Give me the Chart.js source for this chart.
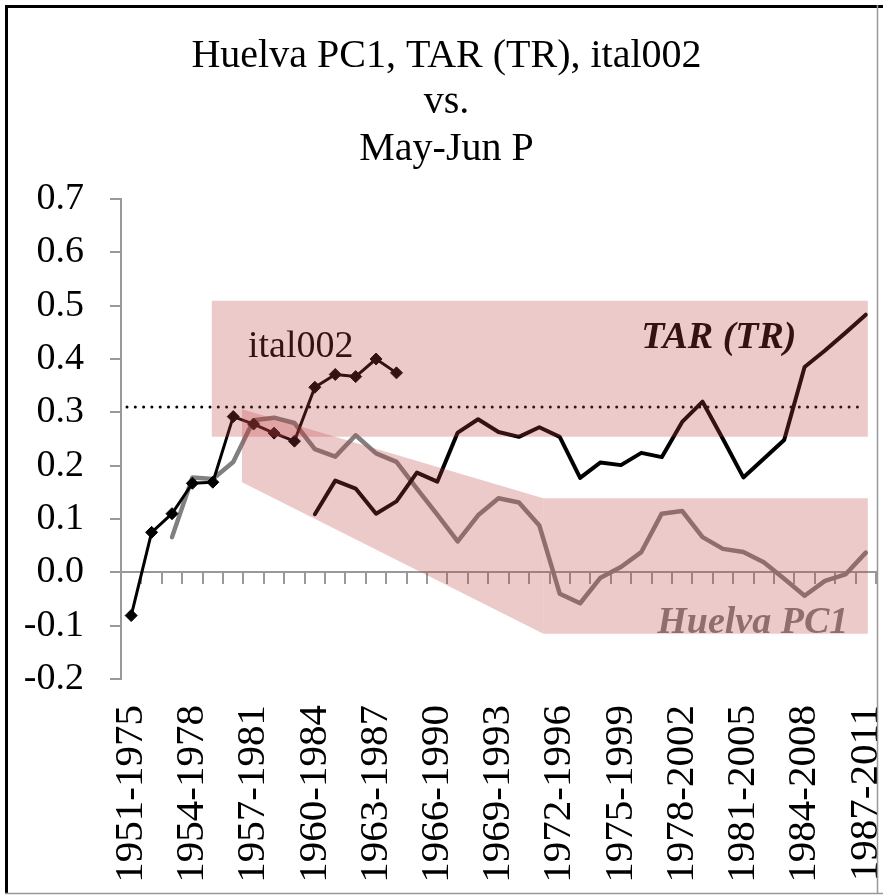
<!DOCTYPE html>
<html>
<head>
<meta charset="utf-8">
<script src="https://cdn.jsdelivr.net/npm/chart.js@4.4.0/dist/chart.umd.min.js"></script>
<style>
  html, body { margin: 0; padding: 0; background: #fff; }
  #wrap { width: 883px; height: 896px; position: relative; }
</style>
</head>
<body>
<div id="wrap"><canvas id="pcChart"></canvas></div>
<script>
// 25-year moving windows
const periods = [
  "1951-1975", "1952-1976", "1953-1977", "1954-1978", "1955-1979", "1956-1980",
  "1957-1981", "1958-1982", "1959-1983", "1960-1984", "1961-1985", "1962-1986",
  "1963-1987", "1964-1988", "1965-1989", "1966-1990", "1967-1991", "1968-1992",
  "1969-1993", "1970-1994", "1971-1995", "1972-1996", "1973-1997", "1974-1998",
  "1975-1999", "1976-2000", "1977-2001", "1978-2002", "1979-2003", "1980-2004",
  "1981-2005", "1982-2006", "1983-2007", "1984-2008", "1985-2009", "1986-2010",
  "1987-2011"
];

const ital002 = [
  -0.081, 0.075, 0.110, 0.167, 0.169, 0.292, 0.278, 0.261, 0.246, 0.347,
  0.371, 0.367, 0.400, 0.374
];

const tarTR = [
  null, null, null, null, null, null, null, null, null,
  0.109, 0.172, 0.157, 0.110, 0.133, 0.187, 0.170, 0.262, 0.287, 0.263,
  0.254, 0.272, 0.254, 0.177, 0.206, 0.201, 0.224, 0.216, 0.282, 0.320,
  0.250, 0.178, 0.213, 0.248, 0.385, 0.416, 0.449, 0.483
];

const huelvaPC1 = [
  null, null,
  0.066, 0.178, 0.175, 0.207, 0.285, 0.290, 0.280, 0.231, 0.217, 0.257,
  0.223, 0.207, 0.157, 0.108, 0.058, 0.107, 0.139, 0.131, 0.088, -0.040,
  -0.058, -0.010, 0.010, 0.038, 0.110, 0.115, 0.066, 0.044, 0.038, 0.019,
  -0.012, -0.044, -0.016, -0.004, 0.037
];

const yMin = -0.2, yMax = 0.7, yStep = 0.1;
const threshold = 0.31;

// shaded areas, in [category index, value]
const shadeUpper = [[3.95, 0.509], [36.1, 0.509], [36.1, 0.254], [3.95, 0.254]];
const shadeWedge = [[5.43, 0.306], [20.2, 0.139], [20.2, -0.115], [5.43, 0.169]];
const shadeLower = [[20.2, 0.139], [36.1, 0.139], [36.1, -0.115], [20.2, -0.115]];

const serif = "'Liberation Serif', 'Times New Roman', serif";

const overlayPlugin = {
  id: "overlay",
  afterDatasetsDraw(chart) {
    const { ctx, chartArea, scales: { x, y } } = chart;
    ctx.save();

    // dotted reference line
    const ty = y.getPixelForValue(threshold);
    ctx.strokeStyle = "#000";
    ctx.lineWidth = 3;
    ctx.lineCap = "round";
    ctx.setLineDash([0, 8.3]);
    ctx.beginPath();
    ctx.moveTo(chartArea.left + 6, ty);
    ctx.lineTo(chartArea.right - 17, ty);
    ctx.stroke();
    ctx.setLineDash([]);

    // series labels
    ctx.textBaseline = "alphabetic";
    ctx.textAlign = "left";
    ctx.fillStyle = "#000";
    ctx.font = "38px " + serif;
    ctx.fillText("ital002", x.getPixelForValue(5.72), y.getPixelForValue(0.404));
    ctx.font = "italic bold 38px " + serif;
    ctx.fillText("TAR (TR)", x.getPixelForValue(25.0), y.getPixelForValue(0.421));
    ctx.fillStyle = "#808080";
    ctx.fillText("Huelva PC1", x.getPixelForValue(25.78), y.getPixelForValue(-0.113));

    // pink shading on top
    ctx.fillStyle = "rgba(192, 64, 64, 0.28)";
    [shadeUpper, shadeWedge, shadeLower].forEach(shape => {
      ctx.beginPath();
      shape.forEach(([i, v], k) => {
        const px = x.getPixelForValue(i), py = y.getPixelForValue(v);
        if (k === 0) ctx.moveTo(px, py); else ctx.lineTo(px, py);
      });
      ctx.closePath();
      ctx.fill();
    });
    ctx.restore();
  }
};

const framePlugin = {
  id: "frame",
  afterDraw(chart) {
    const ctx = chart.ctx;
    ctx.save();
    ctx.strokeStyle = "#000";
    ctx.lineWidth = 3;
    ctx.beginPath();
    ctx.moveTo(5, 6.5); ctx.lineTo(883, 6.5);
    ctx.moveTo(6.5, 5); ctx.lineTo(6.5, 894);
    ctx.stroke();
    ctx.strokeStyle = "#999";
    ctx.lineWidth = 1.5;
    ctx.beginPath();
    ctx.moveTo(877.5, 5); ctx.lineTo(877.5, 894);
    ctx.moveTo(5, 893.5); ctx.lineTo(883, 893.5);
    ctx.stroke();
    ctx.restore();
  }
};

const ctx = document.getElementById("pcChart").getContext("2d");
new Chart(ctx, {
  type: "line",
  data: {
    labels: periods,
    datasets: [
      {
        label: "ital002",
        data: ital002,
        borderColor: "#000",
        backgroundColor: "#000",
        borderWidth: 3,
        pointStyle: "rectRot",
        pointRadius: 6,
        pointBorderWidth: 1,
        tension: 0
      },
      {
        label: "TAR (TR)",
        data: tarTR,
        borderColor: "#000",
        borderWidth: 4,
        pointRadius: 0,
        tension: 0
      },
      {
        label: "Huelva PC1",
        data: huelvaPC1,
        borderColor: "#808080",
        borderWidth: 4.5,
        pointRadius: 0,
        tension: 0
      }
    ]
  },
  options: {
    responsive: true,
    maintainAspectRatio: false,
    animation: false,
    elements: { line: { borderJoinStyle: "round", borderCapStyle: "round" } },
    layout: { padding: { left: 16, right: 6, top: 8, bottom: 0 } },
    plugins: {
      legend: { display: false },
      tooltip: { enabled: false },
      title: {
        display: true,
        text: ["Huelva PC1, TAR (TR), ital002", "vs.", "May-Jun P"],
        color: "#000",
        font: { family: serif, size: 40, weight: "normal", lineHeight: 1.1625 },
        padding: { top: 25, bottom: 26.5 }
      }
    },
    scales: {
      x: {
        type: "category",
        position: "bottom",
        offset: true,
        grid: { display: false, drawTicks: false },
        border: { display: false },
        ticks: {
          autoSkip: false,
          minRotation: 90,
          maxRotation: 90,
          padding: 26,
          color: "#000",
          font: { family: serif, size: 41 },
          callback: function (value, index) {
            return index % 3 === 0 ? this.getLabelForValue(value) : "";
          }
        },
        afterFit(scale) {
          scale.height = 217;
          scale.paddingLeft = 0;
          scale.paddingRight = 0;
        }
      },
      xZero: {
        type: "category",
        position: { y: 0 },
        offset: true,
        grid: { drawOnChartArea: false, drawTicks: true, offset: true, tickLength: 11, color: "#999", lineWidth: 2 },
        border: { display: true, color: "#999", width: 2 },
        ticks: { display: false },
        afterFit(scale) {
          scale.paddingLeft = 0;
          scale.paddingRight = 0;
        }
      },
      y: {
        min: yMin,
        max: yMax,
        grid: { drawOnChartArea: false, drawTicks: true, tickLength: 11, color: "#999", lineWidth: 2 },
        border: { display: true, color: "#999", width: 2 },
        ticks: {
          stepSize: yStep,
          padding: 26,
          color: "#000",
          font: { family: serif, size: 38 },
          callback: v => (Math.abs(v) < 1e-9 ? 0 : v).toFixed(1)
        },
        afterFit(scale) {
          scale.width = 105;
          scale.paddingTop = 0;
          scale.paddingBottom = 0;
        }
      }
    }
  },
  plugins: [overlayPlugin, framePlugin]
});
</script>
</body>
</html>
